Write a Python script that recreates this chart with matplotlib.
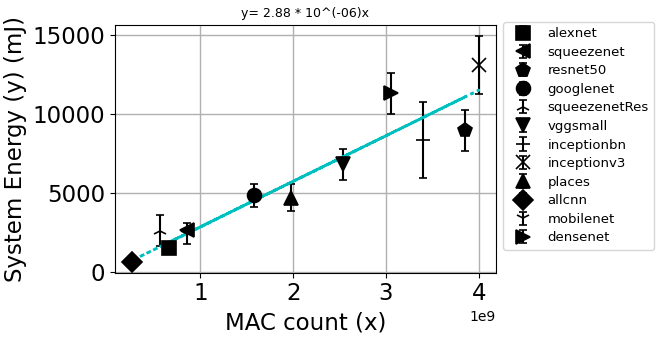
import matplotlib
matplotlib.use("Agg")
import matplotlib.pyplot as plt
import numpy as np

names = ["alexnet", "squeezenet", "resnet50", "googlenet", "squeezenetRes",
         "vggsmall", "inceptionbn", "inceptionv3", "places", "allcnn",
         "mobilenet", "densenet"]
markers = ["s", "<", "p", "o", "2", "v", "+", "x", "^", "D", "1", ">"]
mac = [0.666e9, 0.858e9, 3.856e9, 1.582e9, 0.569e9, 2.537e9, 3.40e9,
       4.0e9, 1.977e9, 0.265e9, 0.86e9, 3.055e9]
energy = [1530, 2680, 8980, 4870, 2650, 6830, 8380, 13100, 4720, 690, 2450, 11315]
err = [0, 0, 1275, 725, 950, 1000, 2425, 1830, 850, 0, 680, 1275]
slope = 2.88e-6

fig = plt.figure(figsize=(6.64, 3.38), dpi=100)
ax = fig.add_axes([0.173, 0.193, 0.574, 0.733])

for n, m, x, y, e in zip(names, markers, mac, energy, err):
    ax.errorbar(x, y, yerr=e, fmt=m, color="k", ecolor="k", capsize=3,
                markersize=10, markeredgewidth=1.2, label=n)

fit = slope * np.array(mac)
ax.plot(mac, fit, linestyle=":", color="c", linewidth=2)

ax.grid(True, color="#b0b0b0", linewidth=1)
ax.set_axisbelow(True)
ax.set_title("y= 2.88 * 10^(-06)x", fontsize=9)
ax.set_xlabel("MAC count (x)", fontsize=16.5)
ax.set_ylabel("System Energy (y) (mJ)", fontsize=16.5)
ax.tick_params(axis="both", labelsize=16.5)
ax.set_yticks([0, 5000, 10000, 15000])
ax.set_xticks([1e9, 2e9, 3e9, 4e9])
ax.legend(loc="upper left", bbox_to_anchor=(1.018, 1.012), fontsize=9.5,
          labelspacing=0.42, borderaxespad=0, handlelength=2.2)

fig.savefig("out.png", dpi=100)
